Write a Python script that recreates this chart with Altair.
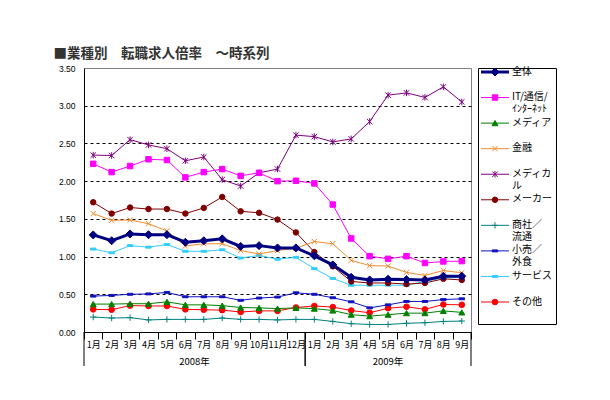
import altair as alt
import pandas as pd

# ---------------- data ----------------
periods = ["2008-1", "2008-2", "2008-3", "2008-4", "2008-5", "2008-6", "2008-7",
           "2008-8", "2008-9", "2008-10", "2008-11", "2008-12",
           "2009-1", "2009-2", "2009-3", "2009-4", "2009-5", "2009-6", "2009-7",
           "2009-8", "2009-9"]
years = ["2008年", "2009年"]
year_first = ["2008-1", "2009-1"]
year_last = ["2008-12", "2009-9"]

series_names = ["全体", "IT/通信/インターネット", "メディア", "金融", "メディカル",
                "メーカー", "商社/流通", "小売/外食", "サービス", "その他"]
legend_labels = ["全体", "IT/通信/\nｲﾝﾀｰﾈｯﾄ", "メディア", "金融", "メディカ\nル",
                 "メーカー", "商社／\n流通", "小売／\n外食", "サービス", "その他"]

zentai = [1.287, 1.21, 1.30, 1.29, 1.29, 1.19, 1.21, 1.235, 1.135, 1.145, 1.115, 1.115,
          1.01, 0.89, 0.725, 0.69, 0.70, 0.695, 0.69, 0.74, 0.74]
it_tsushin = [2.23, 2.12, 2.20, 2.29, 2.28, 2.05, 2.12, 2.16, 2.07, 2.11, 2.00, 2.005,
              1.97, 1.69, 1.24, 1.005, 0.97, 1.005, 0.915, 0.935, 0.94]
media = [0.37, 0.37, 0.375, 0.375, 0.40, 0.36, 0.36, 0.35, 0.325, 0.32, 0.31, 0.32,
         0.31, 0.285, 0.23, 0.21, 0.23, 0.25, 0.25, 0.28, 0.26]
kinyu = [1.57, 1.48, 1.485, 1.435, 1.34, 1.14, 1.17, 1.17, 1.08, 1.035, 1.08, 1.11,
         1.20, 1.17, 0.95, 0.88, 0.875, 0.79, 0.75, 0.815, 0.785]
medical = [2.345, 2.34, 2.55, 2.48, 2.43, 2.27, 2.32, 2.02, 1.935, 2.11, 2.16, 2.61,
           2.59, 2.52, 2.56, 2.79, 3.14, 3.17, 3.11, 3.25, 3.05]
maker = [1.72, 1.57, 1.65, 1.63, 1.63, 1.57, 1.645, 1.79, 1.60, 1.58, 1.49, 1.32,
         1.06, 0.87, 0.67, 0.65, 0.65, 0.635, 0.65, 0.705, 0.69]
shosha = [0.198, 0.185, 0.19, 0.16, 0.167, 0.167, 0.167, 0.185, 0.167, 0.167, 0.16, 0.167,
          0.167, 0.14, 0.11, 0.10, 0.10, 0.115, 0.123, 0.14, 0.145]
kouri = [0.476, 0.485, 0.50, 0.505, 0.525, 0.467, 0.467, 0.467, 0.42, 0.45, 0.463, 0.52,
         0.50, 0.454, 0.40, 0.32, 0.36, 0.405, 0.405, 0.43, 0.44]
service = [1.10, 1.05, 1.145, 1.125, 1.16, 1.07, 1.07, 1.09, 0.98, 1.015, 0.965, 0.99,
           0.84, 0.71, 0.62, 0.62, 0.62, 0.62, 0.67, 0.72, 0.72]
sonota = [0.30, 0.295, 0.35, 0.345, 0.345, 0.30, 0.295, 0.29, 0.265, 0.28, 0.28, 0.325,
          0.345, 0.33, 0.285, 0.255, 0.315, 0.335, 0.30, 0.365, 0.36]

series_values = [zentai, it_tsushin, media, kinyu, medical, maker, shosha, kouri, service, sonota]
y_ticks = [0, 0.5, 1.0, 1.5, 2.0, 2.5, 3.0, 3.5]

# ---------------- styles ----------------
colors = ["#000080", "#FF00FF", "#008000", "#F08C30", "#800080", "#800000",
          "#008080", "#1010C0", "#33CCFF", "#FF0000"]
shapes = ["diamond", "square", "triangle-up",
          "M-1,-1L1,1M-1,1L1,-1",
          "M-1,-1L1,1M-1,1L1,-1M0,-1.2L0,1.2",
          "circle",
          "M-1,0L1,0M0,-1L0,1",
          "M-1,-0.35L1,-0.35L1,0.35L-1,0.35Z",
          "M-1,-0.35L1,-0.35L1,0.35L-1,0.35Z",
          "circle"]
fills = ["#000080", "#FF00FF", "#008000", "transparent", "transparent", "#800000",
         "transparent", "#1010C0", "#33CCFF", "#FF0000"]
sizes = [64, 30, 36, 28, 30, 30, 40, 30, 30, 32]

JP = "Noto Sans CJK JP"

rows = []
for name, vals in reversed(list(zip(series_names, series_values))):
    for p, v in zip(periods, vals):
        rows.append({"period": p, "series": name, "value": v})
df = pd.DataFrame(rows)

year_df = pd.DataFrame({"year": years, "first": year_first, "last": year_last})
leg_df = pd.DataFrame({"series": series_names, "label": legend_labels})

W, H = 387, 264

stroke_scale = alt.Scale(domain=series_names, range=colors)
shape_scale = alt.Scale(domain=series_names, range=shapes)
fill_scale = alt.Scale(domain=series_names, range=fills)
size_scale = alt.Scale(type="ordinal", domain=series_names, range=sizes)
width_cond = alt.condition("datum.series == '全体'", alt.value(3), alt.value(1))

x_axis = alt.Axis(title=None,
                  labelExpr="datum.value ? split(datum.value, '-')[1] + '月' : ''",
                  labelAngle=0, tickBand="extent", tickSize=7, tickColor="black",
                  domainColor="black", labelFontSize=9, labelFont=JP,
                  labelColor="black", labelPadding=1, grid=False)
x_scale = alt.Scale(type="band", domain=periods, paddingInner=0, paddingOuter=0)


def xenc(field, band=0.5):
    return alt.X(f"{field}:O", scale=x_scale, axis=x_axis, bandPosition=band)


y_enc = alt.Y("value:Q",
              scale=alt.Scale(domain=[0, 3.5], nice=False, zero=True),
              axis=alt.Axis(title=None, values=y_ticks, format=".2f", ticks=False,
                            labelPadding=9, labelFontSize=8.5, labelFont="Liberation Sans",
                            labelColor="black", domainColor="black",
                            gridColor="black", gridDash=[3, 3], gridWidth=1,
                            gridOpacity={"condition": {"test": "datum.value == 0 || datum.value == 3.5",
                                                       "value": 0}, "value": 1},
                            minExtent=30, maxExtent=30))

lines = alt.Chart(df).mark_line().encode(
    x=xenc("period"), y=y_enc,
    stroke=alt.Stroke("series:N", scale=stroke_scale, legend=None),
    strokeWidth=width_cond,
)
points = alt.Chart(df).mark_point(opacity=1, strokeWidth=1).encode(
    x=xenc("period"), y=y_enc,
    shape=alt.Shape("series:N", scale=shape_scale, legend=None),
    fill=alt.Fill("series:N", scale=fill_scale, legend=None),
    stroke=alt.Stroke("series:N", scale=stroke_scale, legend=None),
    size=alt.Size("series:N", scale=size_scale, legend=None),
)
sep_start = alt.Chart(year_df).mark_rule(color="black", strokeWidth=1).encode(
    x=xenc("first", 0), y=alt.value(H), y2=alt.value(H + 34))
sep_end = alt.Chart(year_df).mark_rule(color="black", strokeWidth=1).encode(
    x=xenc("last", 1), y=alt.value(H), y2=alt.value(H + 34))
ytext_2008 = alt.Chart(year_df).transform_filter("datum.year == '2008年'").transform_calculate(
    mid="'2008-7'").mark_text(font=JP, fontSize=9.5, color="black", baseline="middle").encode(
    x=xenc("mid", 0), text="year:N", y=alt.value(H + 30))
ytext_2009 = alt.Chart(year_df).transform_filter("datum.year == '2009年'").transform_calculate(
    mid="'2009-5'").mark_text(font=JP, fontSize=9.5, color="black", baseline="middle").encode(
    x=xenc("mid", 0.5), text="year:N", y=alt.value(H + 30))

main = alt.layer(lines, points, sep_start, sep_end, ytext_2008, ytext_2009).properties(
    width=W, height=H, view=alt.ViewBackground(stroke="#808080", strokeWidth=1))

# ---------------- legend panel ----------------
leg_y = alt.Y("series:N",
              scale=alt.Scale(type="point", domain=series_names, range=[4, 234], padding=0),
              axis=None)
leg_rule = alt.Chart(leg_df).mark_rule().encode(
    x=alt.value(3), x2=alt.value(31), y=leg_y,
    stroke=alt.Stroke("series:N", scale=stroke_scale, legend=None),
    strokeWidth=width_cond)
leg_pt = alt.Chart(leg_df).mark_point(opacity=1, strokeWidth=1).encode(
    x=alt.value(17), y=leg_y,
    shape=alt.Shape("series:N", scale=shape_scale, legend=None),
    fill=alt.Fill("series:N", scale=fill_scale, legend=None),
    stroke=alt.Stroke("series:N", scale=stroke_scale, legend=None),
    size=alt.Size("series:N", scale=size_scale, legend=None))
leg_txt = alt.Chart(leg_df).mark_text(align="left", baseline="top", dy=-5.5, lineBreak="\n",
                                      lineHeight=12, fontSize=10, font=JP, color="black").encode(
    x=alt.value(34), y=leg_y, text="label:N")
legend = alt.layer(leg_rule, leg_pt, leg_txt).properties(
    width=78, height=256, view=alt.ViewBackground(stroke="black", strokeWidth=1))

chart = alt.hconcat(main, legend, spacing=5).properties(
    title=alt.Title("■業種別　転職求人倍率　～時系列", anchor="start", fontSize=13.5,
                    fontWeight="bold", color="#333333", font=JP, offset=3),
    padding={"left": 53, "top": 47, "right": 5, "bottom": 5},
    background="white",
)

chart.save("out.html", embed_options={"renderer": "svg", "actions": False})
